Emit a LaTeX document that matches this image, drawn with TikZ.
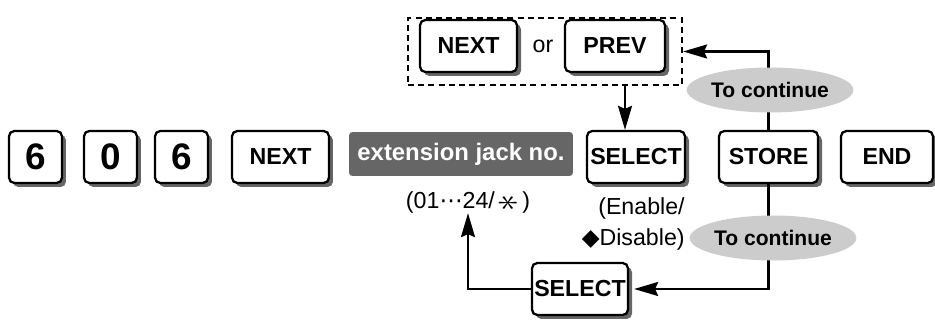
\documentclass[tikz,border=0pt]{standalone}
\usepackage{fontspec}
\setmainfont{Liberation Sans}
\newfontfamily\symfont{DejaVu Sans}
\usetikzlibrary{arrows.meta,shapes.geometric,shadows}
\tikzset{
  key/.style={draw, line width=1.3pt, rounded corners=3pt, fill=white, inner sep=0pt,
    minimum height=1.04cm, font=\fontsize{13.2}{15}\selectfont\bfseries,
    general shadow={fill=black!60, shadow xshift=0.08cm, shadow yshift=-0.08cm}},
  digitkey/.style={key, minimum width=1.06cm, font=\fontsize{21}{23}\selectfont\bfseries},
  wordkey/.style={key, minimum width=#1},
  darkbox/.style={fill=black!60, rounded corners=2pt, text=white, inner sep=0pt,
    minimum width=4.48cm, minimum height=0.88cm, font=\fontsize{13.6}{15}\selectfont\bfseries},
  cont/.style={ellipse, fill=black!20, inner sep=0pt, minimum width=2.88cm,
    minimum height=0.9cm, font=\fontsize{12}{14}\selectfont\bfseries},
  note/.style={font=\fontsize{13.2}{18}\selectfont, inner sep=0pt},
  optbox/.style={draw, line width=1.3pt, dash pattern=on 3.4pt off 2.4pt,
    minimum width=5.48cm, minimum height=1.34cm},
  flow/.style={-{Stealth[length=0.48cm, width=0.28cm, inset=0.06cm]}, line width=1.2pt},
}
\newcommand{\starkey}{\raisebox{-0.25ex}{\scalebox{2.0}[1.6]{\rotatebox{90}{$\ast$}}}}

\begin{document}
\begin{tikzpicture}[x=0.02cm, y=-0.02cm]
    \useasboundingbox (0,0) rectangle (935,320);
    \node[digitkey] (six1) at (35.5,157) {6};
    \node[digitkey] (zero) at (110.5,157) {0};
    \node[digitkey] (six2) at (181.5,157) {6};
    \node[wordkey=1.94cm] (next) at (280.5,157) {NEXT};
    \node[darkbox] (jack) at (461,154) {extension jack no.};
    \node[note] (range) at (468,202) {(01{\symfont ⋯}24/\,\starkey\,)};
    \node[wordkey=1.96cm] (sel1) at (636,157) {SELECT};
    \node[note, align=right, anchor=east] (enable) at (685,224) {(Enable/\\{\symfont ◆}Disable)};
    \node[wordkey=1.98cm] (store) at (768.5,157) {STORE};
    \node[wordkey=1.84cm] (end) at (887,157) {END};
    \node[optbox] (opt) at (545,51.5) {};
    \node[wordkey=1.94cm] (nexttop) at (468.5,46) {NEXT};
    \node[note] (or) at (543,46) {or};
    \node[wordkey=2.0cm] (prev) at (615,46) {PREV};
    \node[wordkey=1.92cm] (sel2) at (580,289) {SELECT};
    \draw[flow] ([xshift=-0.22cm]sel1.north |- opt.south) -- ([xshift=-0.22cm]sel1.north);
    \draw[flow] (store.north) |- (opt.east);
    \draw[flow, shorten >=0.1cm] (store.south) |- (sel2.east);
    \draw[flow] (sel2.west) -| (range.south);
    \node[cont] (cont1) at (770,90) {To continue};
    \node[cont] (cont2) at (773,238) {To continue};
  \end{tikzpicture}
\end{document}
